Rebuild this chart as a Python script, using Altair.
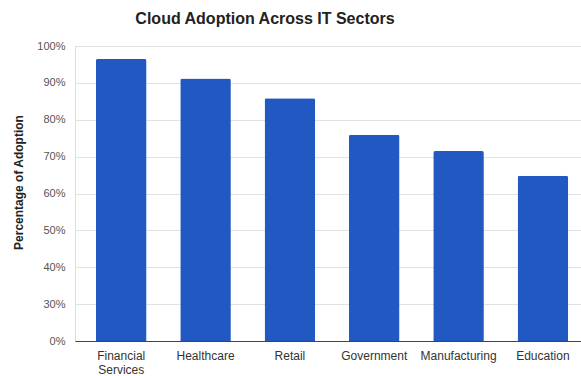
import altair as alt
import pandas as pd

sectors = ["Financial Services", "Healthcare", "Retail", "Government", "Manufacturing", "Education"]
adoption = [96.5, 91.2, 85.8, 75.9, 71.5, 64.8]
y_tick_values = [20, 30, 40, 50, 60, 70, 80, 90, 100]
y_tick_labels = ["0%", "30%", "40%", "50%", "60%", "70%", "80%", "90%", "100%"]

df = pd.DataFrame({"Sector": sectors, "Adoption": adoption})

label_expr = " : ".join(
    [f"datum.value == {v} ? '{l}'" for v, l in zip(y_tick_values, y_tick_labels)]
) + " : ''"

FONT = "Liberation Sans"

chart = (
    alt.Chart(df)
    .mark_bar(color="#2158C1", cornerRadiusTopLeft=2, cornerRadiusTopRight=2)
    .encode(
        x=alt.X(
            "Sector:N",
            sort=sectors,
            scale=alt.Scale(paddingInner=0.4, paddingOuter=0.2, align=0.62),
            axis=alt.Axis(
                title=None,
                labelAngle=0,
                labelExpr="split(datum.label, ' ')",
                labelFontSize=12,
                labelColor="#333333",
                labelFont=FONT,
                labelPadding=9,
                ticks=False,
                domainColor="#444444",
                domainWidth=1,
                grid=False,
                labelLineHeight=14,
            ),
        ),
        y=alt.Y(
            "Adoption:Q",
            scale=alt.Scale(domain=[20, 100], nice=False, clamp=True),
            axis=alt.Axis(
                title="Percentage of Adoption",
                values=y_tick_values,
                labelExpr=label_expr,
                labelFontSize=11,
                labelColor="#555555",
                labelFont=FONT,
                labelPadding=10,
                ticks=False,
                domain=False,
                gridColor="#e2e2e2",
                titleFont=FONT,
                titleFontSize=12,
                titleFontWeight="bold",
                titleColor="#222222",
                titleAngle=-90,
                titleAlign="center",
                titleBaseline="middle",
                titleX=-57,
                titleY=136,
            ),
        ),
    )
    .properties(
        width=506,
        height=295,
        autosize=alt.AutoSizeParams(type="none"),
        padding={"left": 75, "top": 46, "right": 0, "bottom": 35},
        title=alt.TitleParams(
            "Cloud Adoption Across IT Sectors",
            font=FONT,
            fontSize=16,
            fontWeight="bold",
            color="#222222",
            anchor="middle",
            dx=-63,
            offset=13,
        ),
    )
    .configure_view(stroke=None)
    .configure(background="white")
)

chart.save("out.html", embed_options={"renderer": "svg", "actions": False})
